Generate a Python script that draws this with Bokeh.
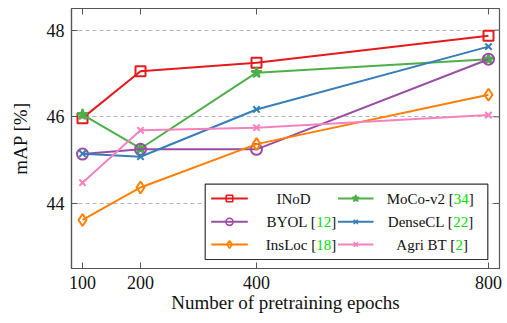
from bokeh.plotting import figure
from bokeh.models import Range1d, FixedTicker
from bokeh.core.properties import value
from bokeh.embed import file_html
from bokeh.resources import INLINE

# ---------------- data ----------------
epochs = [100, 200, 400, 800]
inod = [45.97, 47.05, 47.25, 47.87]
moco_v2 = [46.05, 45.27, 47.02, 47.33]
byol = [45.14, 45.25, 45.25, 47.33]
densecl = [45.15, 45.08, 46.17, 47.62]
insloc = [43.62, 44.37, 45.37, 46.51]
agri_bt = [44.48, 45.69, 45.75, 46.04]

series_names = ["INoD", "MoCo-v2", "BYOL", "DenseCL", "InsLoc", "Agri BT"]
series_refs = ["", "34", "12", "22", "18", "2"]
series_values = [inod, moco_v2, byol, densecl, insloc, agri_bt]

x_ticks = [100, 200, 400, 800]
y_ticks = [44, 46, 48]

# ---------------- styles ----------------
FONT = "Liberation Serif"
styles = [
    dict(color="#e41a1c", marker="square", size=10, fill=False),
    dict(color="#4daf4a", marker="star", size=11, fill=True),
    dict(color="#984ea3", marker="circle", size=11, fill=False),
    dict(color="#377eb8", marker="x", size=9, fill=False),
    dict(color="#ff7f00", marker="diamond", size=12, fill=False),
    dict(color="#f781bf", marker="x", size=9, fill=False),
]

W, H = 502, 318
ML, MR, MT, MB = 71, 3, 8, 50
FW, FH = W - ML - MR, H - MT - MB
TICK = 6
AX_COLOR = "#555555"

p = figure(width=W, height=H, x_range=Range1d(81, 819), y_range=Range1d(42.5, 48.5),
           output_backend="svg", toolbar_location=None,
           min_border_left=ML, min_border_right=MR, min_border_top=MT, min_border_bottom=MB)
p.extra_x_ranges = {"px": Range1d(0, FW)}
p.extra_y_ranges = {"py": Range1d(0, FH)}

p.background_fill_color = "white"
p.border_fill_color = "white"
p.outline_line_color = AX_COLOR
p.outline_line_width = 1.2

p.xgrid.visible = False
p.ygrid.ticker = FixedTicker(ticks=y_ticks)
p.ygrid.grid_line_color = "#b5b5b5"
p.ygrid.grid_line_dash = "4 3"
p.ygrid.grid_line_width = 1

for ax, ticks in ((p.xaxis[0], x_ticks), (p.yaxis[0], y_ticks)):
    ax.ticker = FixedTicker(ticks=ticks)
    ax.minor_tick_line_color = None
    ax.major_tick_in = TICK
    ax.major_tick_out = 0
    ax.major_tick_line_color = AX_COLOR
    ax.axis_line_color = AX_COLOR
    ax.axis_line_width = 1.2
    ax.major_label_text_font = FONT
    ax.major_label_text_font_size = "18px"
    ax.major_label_text_color = "#111111"
    ax.axis_label_text_font = FONT
    ax.axis_label_text_font_size = "19px"
    ax.axis_label_text_font_style = "normal"
    ax.axis_label_text_color = "#111111"

p.xaxis[0].axis_label = "Number of pretraining epochs"
p.xaxis[0].major_label_standoff = 7
p.xaxis[0].axis_label_standoff = 0
p.yaxis[0].axis_label = "mAP [%]"
p.yaxis[0].major_label_standoff = 7
p.yaxis[0].axis_label_standoff = 13

# mirrored inward ticks on top and right edges of the frame
p.segment(x0=x_ticks, x1=x_ticks, y0=[FH] * len(x_ticks), y1=[FH - TICK] * len(x_ticks),
          line_color=AX_COLOR, line_width=1, y_range_name="py")
p.segment(x0=[FW] * len(y_ticks), x1=[FW - TICK] * len(y_ticks), y0=y_ticks, y1=y_ticks,
          line_color=AX_COLOR, line_width=1, x_range_name="px")

# ---------------- data series ----------------
for vals, st in zip(series_values, styles):
    p.line(epochs, vals, line_color=st["color"], line_width=2)
    p.scatter(epochs, vals, marker=st["marker"], size=st["size"], line_color=st["color"],
              line_width=2, fill_color=st["color"] if st["fill"] else None)

# ---------------- custom legend (frame pixel coordinates) ----------------
box = dict(left=133.7, right=416.3, bottom=9, top=84.3)
row_y = [70, 46.7, 24]
col_line = [(139.7, 176.3), (266.5, 302)]
num_x = [[None, 382.3], [244.7, 381.7], [244.7, 384.0]]
inod_center = 222
LFS = 15

p.quad(left=[box["left"]], right=[box["right"]], bottom=[box["bottom"]], top=[box["top"]],
       fill_color="white", line_color="#333333", line_width=1.2,
       x_range_name="px", y_range_name="py")

for i, (name, ref, st) in enumerate(zip(series_names, series_refs, styles)):
    r, c = divmod(i, 2)
    y = row_y[r]
    x0, x1 = col_line[c]
    p.line([x0, x1], [y, y], line_color=st["color"], line_width=2,
           x_range_name="px", y_range_name="py")
    p.scatter([(x0 + x1) / 2], [y], marker=st["marker"], size=st["size"] * 0.65,
              line_color=st["color"], line_width=1.6,
              fill_color=st["color"] if st["fill"] else None,
              x_range_name="px", y_range_name="py")
    common = dict(x_range_name="px", y_range_name="py", text_font=value(FONT),
                  text_font_size=value(f"{LFS}px"), text_baseline="middle")
    if ref == "":
        p.text([inod_center], [y], text=[name], text_align="center",
               text_color="#111111", **common)
    else:
        nx = num_x[r][c]
        p.text([nx], [y], text=[name + " ["], text_align="right", text_color="#111111", **common)
        p.text([nx], [y], text=[ref], text_align="left", text_color="#00dd00", **common)
        p.text([nx + len(ref) * 0.5 * LFS], [y], text=["]"], text_align="left",
               text_color="#111111", **common)

open("out.html", "w").write(file_html(p, INLINE))
